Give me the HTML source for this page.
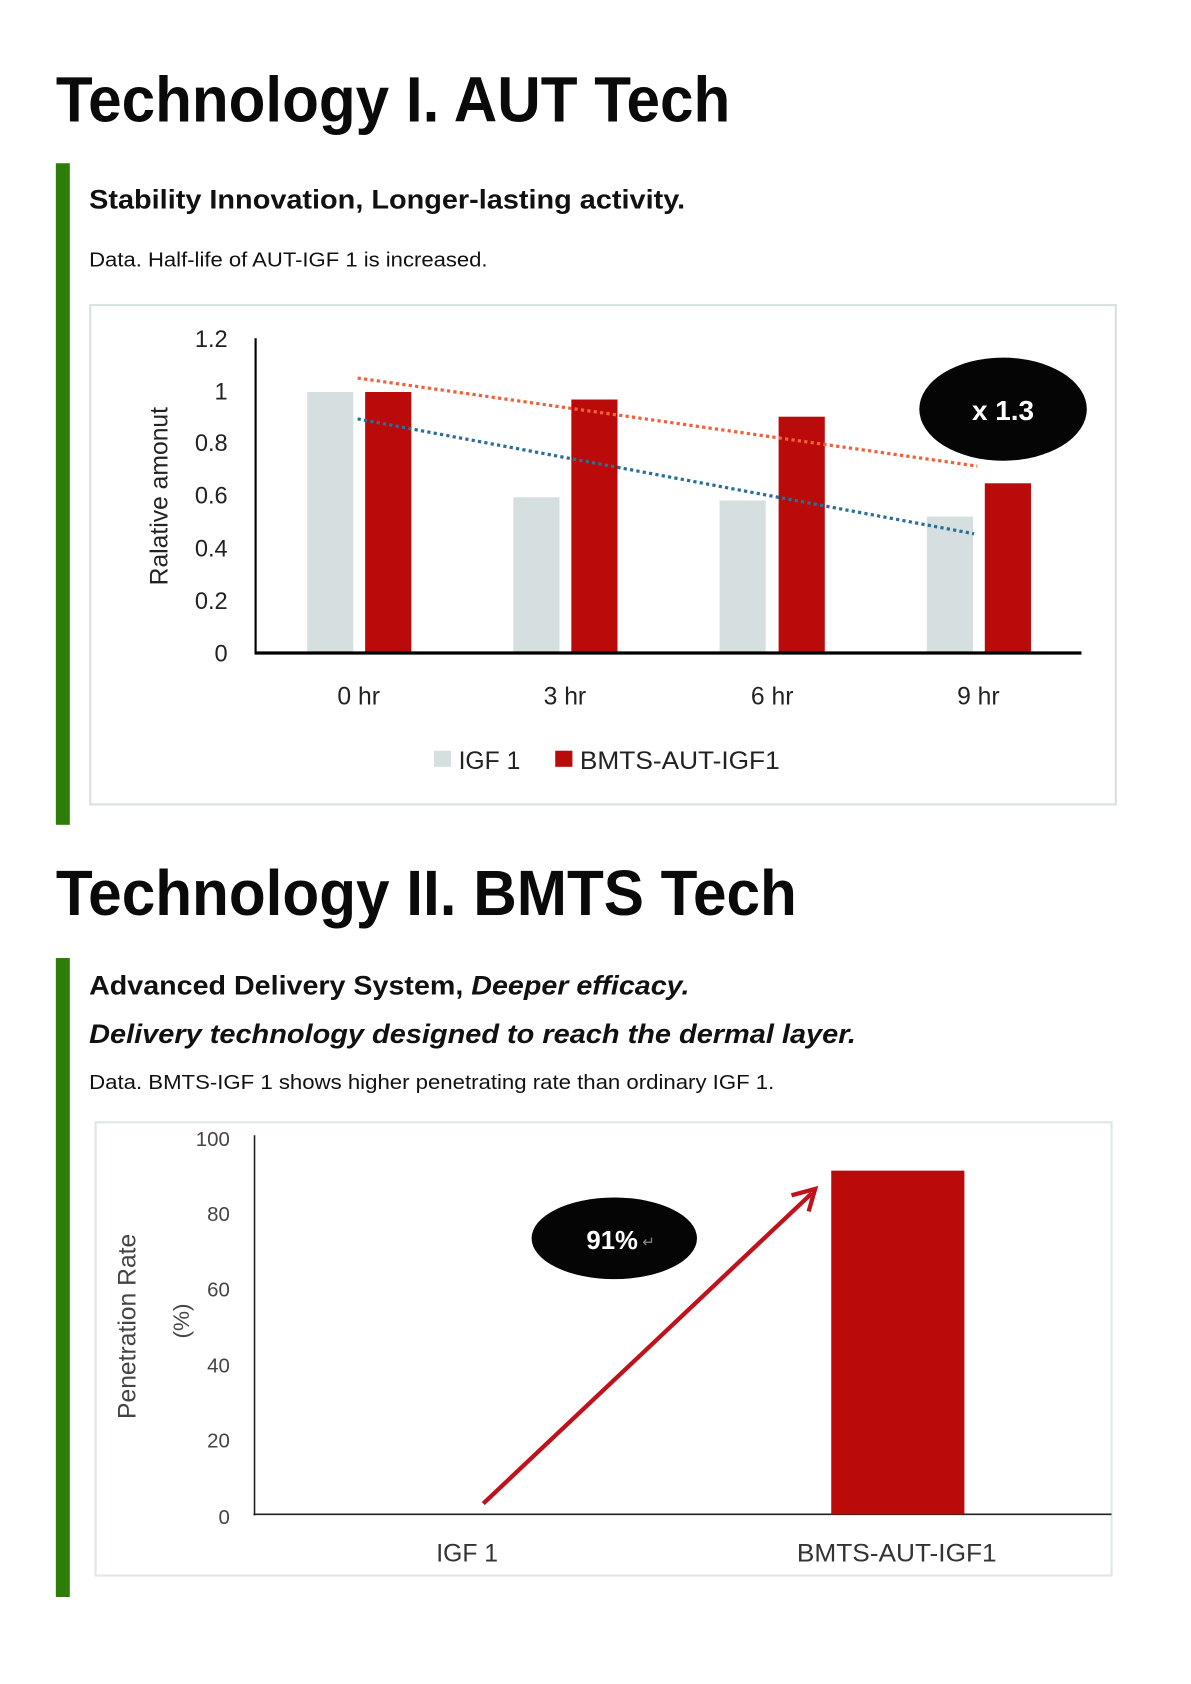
<!DOCTYPE html>
<html><head><meta charset="utf-8"><style>html,body{margin:0;padding:0;background:#fff}svg{display:block}</style></head><body>
<svg width="1191" height="1684" viewBox="0 0 1109 1568" preserveAspectRatio="none" xmlns="http://www.w3.org/2000/svg" font-family="Liberation Sans, sans-serif">
<rect width="1109" height="1568" fill="#fff"/>
<text x="52" y="113" font-size="60" font-weight="bold" fill="#0a0a0a" textLength="628" lengthAdjust="spacingAndGlyphs">Technology I. AUT Tech</text>
<rect x="52" y="152" width="13" height="616" fill="#2e7d08"/>
<text x="83" y="194" font-size="25" font-weight="bold" fill="#111" textLength="555" lengthAdjust="spacingAndGlyphs">Stability Innovation, Longer-lasting activity.</text>
<text x="83" y="248" font-size="19" fill="#111" textLength="371" lengthAdjust="spacingAndGlyphs">Data. Half-life of AUT-IGF 1 is increased.</text>
<rect x="84" y="284" width="955" height="465" fill="#fff" stroke="#d9e1e1" stroke-width="2"/>
<g font-size="22" fill="#222" text-anchor="end">
<text x="212" y="323">1.2</text><text x="212" y="372">1</text><text x="212" y="420">0.8</text><text x="212" y="469">0.6</text><text x="212" y="518">0.4</text><text x="212" y="567">0.2</text><text x="212" y="616">0</text>
</g>
<text transform="translate(156,462) rotate(-90)" font-size="23" fill="#222" text-anchor="middle">Ralative amonut</text>
<g fill="#d5dfdf"><rect x="286" y="365" width="43" height="243"/><rect x="478" y="463" width="43" height="145"/><rect x="670" y="466" width="43" height="142"/><rect x="863" y="481" width="43" height="127"/></g>
<g fill="#bb0a0a"><rect x="340" y="365" width="43" height="243"/><rect x="532" y="372" width="43" height="236"/><rect x="725" y="388" width="43" height="220"/><rect x="917" y="450" width="43" height="158"/></g>
<line x1="333" y1="352" x2="910" y2="434" stroke="#f0603a" stroke-width="3" stroke-dasharray="3 3"/>
<line x1="333" y1="390" x2="907" y2="497" stroke="#2a6f97" stroke-width="3" stroke-dasharray="3 3"/>
<line x1="238" y1="315" x2="238" y2="609" stroke="#000" stroke-width="2"/>
<line x1="237" y1="608" x2="1007" y2="608" stroke="#000" stroke-width="3"/>
<ellipse cx="934" cy="381" rx="78" ry="48" fill="#050505"/>
<text x="934" y="391" font-size="26" fill="#fff" font-weight="bold" text-anchor="middle">x 1.3</text>
<g font-size="23" fill="#222" text-anchor="middle"><text x="334" y="656">0 hr</text><text x="526" y="656">3 hr</text><text x="719" y="656">6 hr</text><text x="911" y="656">9 hr</text></g>
<rect x="404" y="699" width="16" height="15" fill="#d5dfdf"/><text x="427" y="716" font-size="23" fill="#222">IGF 1</text>
<rect x="517" y="699" width="16" height="15" fill="#bb0a0a"/><text x="540" y="716" font-size="23" fill="#222" textLength="186" lengthAdjust="spacingAndGlyphs">BMTS-AUT-IGF1</text>

<text x="52" y="852" font-size="60" font-weight="bold" fill="#0a0a0a" textLength="690" lengthAdjust="spacingAndGlyphs">Technology II. BMTS Tech</text>
<rect x="52" y="892" width="13" height="595" fill="#2e7d08"/>
<text x="83" y="926" font-size="25" font-weight="bold" fill="#111" textLength="559" lengthAdjust="spacingAndGlyphs">Advanced Delivery System, <tspan font-style="italic">Deeper efficacy.</tspan></text>
<text x="83" y="971" font-size="25" font-weight="bold" font-style="italic" fill="#111" textLength="714" lengthAdjust="spacingAndGlyphs">Delivery technology designed to reach the dermal layer.</text>
<text x="83" y="1014" font-size="19" fill="#111" textLength="638" lengthAdjust="spacingAndGlyphs">Data. BMTS-IGF 1 shows higher penetrating rate than ordinary IGF 1.</text>
<rect x="89" y="1045" width="946" height="422" fill="#fff" stroke="#e0e6e6" stroke-width="2"/>
<g font-size="19" fill="#444" text-anchor="end">
<text x="214" y="1067">100</text><text x="214" y="1137">80</text><text x="214" y="1207">60</text><text x="214" y="1278">40</text><text x="214" y="1348">20</text><text x="214" y="1419">0</text>
</g>
<text transform="translate(126,1235) rotate(-90)" font-size="23" fill="#444" text-anchor="middle">Penetration Rate</text>
<text transform="translate(176,1230) rotate(-90)" font-size="21" fill="#444" text-anchor="middle">(%)</text>
<line x1="237" y1="1057" x2="237" y2="1411" stroke="#222" stroke-width="1.5"/>
<line x1="236" y1="1410" x2="1035" y2="1410" stroke="#222" stroke-width="1.5"/>
<rect x="774" y="1090" width="124" height="320" fill="#bb0a0a"/>
<ellipse cx="572" cy="1153" rx="77" ry="38" fill="#050505"/>
<text x="546" y="1163" font-size="24" fill="#fff" font-weight="bold">91%</text><text x="598" y="1161" font-size="14" fill="#888">↵</text>
<line x1="450" y1="1400" x2="756" y2="1111" stroke="#c0121a" stroke-width="4"/>
<polyline points="737,1113 759,1107 753,1128" fill="none" stroke="#c0121a" stroke-width="4"/>
<g font-size="23" fill="#333" text-anchor="middle"><text x="435" y="1454">IGF 1</text><text x="835" y="1454" textLength="186" lengthAdjust="spacingAndGlyphs">BMTS-AUT-IGF1</text></g>
</svg>
</body></html>
